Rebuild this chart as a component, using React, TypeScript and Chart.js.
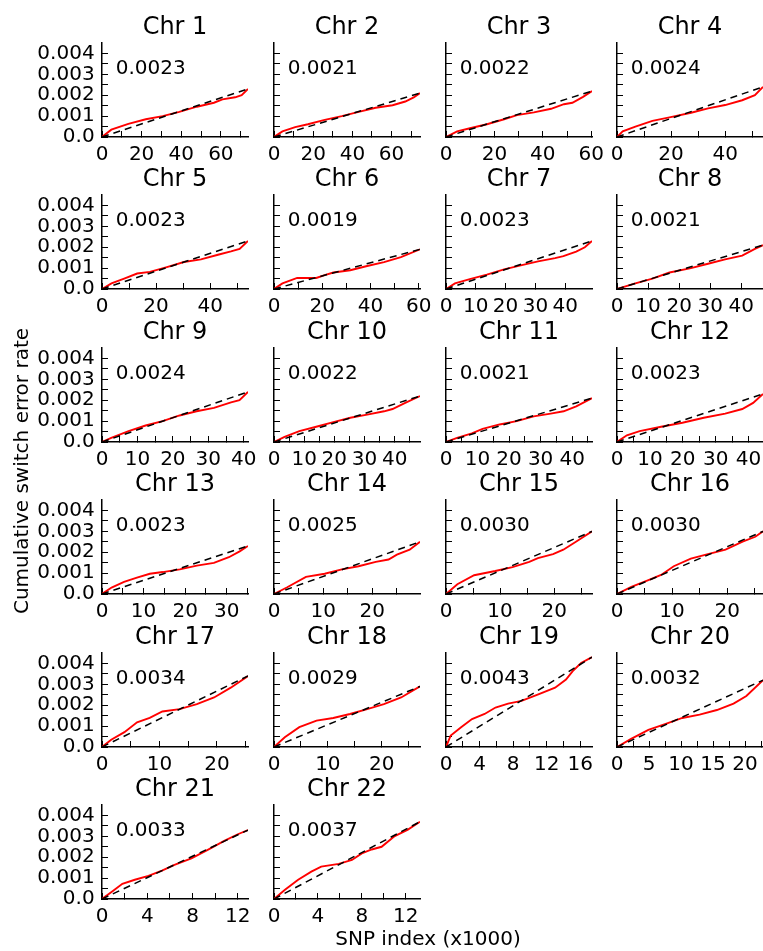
import React, { useEffect, useRef } from "react";
import { Chart, registerables } from "chart.js";

Chart.register(...registerables);

const FONT = "'DejaVu Sans', sans-serif";

const chromosomes = ["Chr 1", "Chr 2", "Chr 3", "Chr 4", "Chr 5", "Chr 6", "Chr 7", "Chr 8", "Chr 9", "Chr 10", "Chr 11", "Chr 12", "Chr 13", "Chr 14", "Chr 15", "Chr 16", "Chr 17", "Chr 18", "Chr 19", "Chr 20", "Chr 21", "Chr 22"];
const snpCounts = [73.7, 74.5, 60.3, 54, 54, 60.5, 49, 47, 41.2, 48.4, 46.3, 44.4, 35.1, 29.7, 27, 26.5, 25.4, 27.1, 17.4, 22.8, 12.9, 13.3];
const switchRates = [0.0023, 0.0021, 0.0022, 0.0024, 0.0023, 0.0019, 0.0023, 0.0021, 0.0024, 0.0022, 0.0021, 0.0023, 0.0023, 0.0025, 0.0030, 0.0030, 0.0034, 0.0029, 0.0043, 0.0032, 0.0033, 0.0037];
const xTickSteps = [10, 10, 10, 10, 10, 10, 10, 10, 5, 5, 5, 5, 5, 5, 5, 5, 5, 5, 2, 2.5, 2, 2];
const xLabelSteps = [20, 20, 20, 20, 20, 20, 10, 10, 10, 10, 10, 10, 10, 10, 10, 10, 10, 10, 4, 5, 4, 4];
const yTickValues = [0, 0.0005, 0.001, 0.0015, 0.002, 0.0025, 0.003, 0.0035, 0.004];
const yTickLabels = ["0.0", "", "0.001", "", "0.002", "", "0.003", "", "0.004"];
const yMax = 0.0045;

const chr1X = [0, 4.7, 13.3, 22.1, 30.6, 39, 47.9, 56.5, 60.8, 67.2, 70.5, 73.7];
const chr1Y = [0, 0.00035, 0.00063, 0.00085, 0.001, 0.0012, 0.00145, 0.00164, 0.0018, 0.0019, 0.002, 0.0023];
const chr2X = [0, 4.3, 10.8, 17.3, 25.9, 34.6, 43.2, 51.9, 60.5, 67, 71.3, 74.5];
const chr2Y = [0, 0.00027, 0.00047, 0.00061, 0.00082, 0.001, 0.0012, 0.0014, 0.00152, 0.0017, 0.0019, 0.0021];
const chr3X = [0, 4.6, 9.9, 16.9, 24, 29.3, 36.3, 43.4, 48.7, 52.2, 56.6, 60.3];
const chr3Y = [0, 0.00027, 0.00042, 0.00061, 0.00085, 0.00105, 0.00118, 0.00135, 0.00157, 0.00164, 0.00192, 0.0022];
const chr4X = [0, 2.1, 6.8, 13.1, 19.4, 27.4, 33.7, 40, 46.3, 51, 54];
const chr4Y = [0, 0.00027, 0.0005, 0.00077, 0.00094, 0.00116, 0.00137, 0.00153, 0.00176, 0.002, 0.0024];
const chr5X = [0, 3.5, 8.2, 13, 17.7, 24, 30.3, 36.6, 42.9, 47.7, 50.9, 54];
const chr5Y = [0, 0.00027, 0.0005, 0.00074, 0.00082, 0.00105, 0.00129, 0.00142, 0.00164, 0.0018, 0.00192, 0.0023];
const chr6X = [0, 3.5, 9.6, 17.5, 21, 24.6, 31.6, 38.6, 45.6, 52.6, 60.5];
const chr6Y = [0, 0.00027, 0.00053, 0.00053, 0.00066, 0.00079, 0.0009, 0.0011, 0.00129, 0.00153, 0.0019];
const chr7X = [0, 3, 8, 13.7, 19.5, 25.1, 30.9, 36.6, 39.4, 43.7, 46.6, 49];
const chr7Y = [0, 0.00027, 0.00047, 0.00069, 0.00094, 0.00113, 0.00132, 0.00148, 0.00157, 0.00179, 0.002, 0.0023];
const chr8X = [0, 5.9, 11.4, 16.9, 23.8, 29.3, 34.8, 40.3, 44.4, 47];
const chr8Y = [0, 0.00027, 0.0005, 0.00079, 0.001, 0.00121, 0.00142, 0.0016, 0.00192, 0.0021];
const chr9X = [0, 2.6, 7.5, 12.3, 17.1, 21.9, 26.7, 31.6, 36.4, 38.8, 41.2];
const chr9Y = [0, 0.0002, 0.00052, 0.00079, 0.001, 0.00127, 0.00147, 0.00163, 0.0019, 0.002, 0.0024];
const chr10X = [0, 3.5, 8.4, 14, 19.7, 25.3, 30.9, 36.5, 39.3, 43.5, 48.4];
const chr10Y = [0, 0.00025, 0.00052, 0.00073, 0.00095, 0.00116, 0.00131, 0.00147, 0.00158, 0.00187, 0.0022];
const chr11X = [0, 3.5, 8.2, 11.6, 17, 22.4, 27.8, 33.2, 37.3, 41.3, 46.3];
const chr11Y = [0, 0.0002, 0.00041, 0.00063, 0.00084, 0.001, 0.00123, 0.00136, 0.00147, 0.00171, 0.0021];
const chr12X = [0, 3, 6.9, 13.4, 19.9, 26.4, 32.9, 38.1, 41.4, 44.4];
const chr12Y = [0, 0.00032, 0.00052, 0.00073, 0.00092, 0.00116, 0.00136, 0.00158, 0.00187, 0.0023];
const chr13X = [0, 2.3, 5.3, 8.4, 11.5, 14.6, 18.7, 22.8, 26.9, 30.5, 33.1, 35.1];
const chr13Y = [0, 0.00031, 0.00058, 0.00078, 0.00097, 0.00105, 0.00118, 0.00136, 0.00149, 0.00176, 0.00204, 0.0023];
const chr14X = [0, 2.6, 6.5, 10.3, 13.8, 17.2, 20.7, 23.3, 25, 27.6, 29.7];
const chr14Y = [0, 0.00031, 0.00082, 0.00097, 0.00118, 0.00133, 0.00154, 0.00165, 0.00188, 0.00212, 0.0025];
const chr15X = [0, 2.1, 5.2, 9.1, 12.3, 15.4, 17, 19.8, 21.7, 24.1, 27];
const chr15Y = [0, 0.00047, 0.0009, 0.0011, 0.00129, 0.00154, 0.00172, 0.00191, 0.00212, 0.00251, 0.003];
const chr16X = [0, 2.6, 5.7, 8, 10.3, 13.4, 16.5, 19.7, 22.8, 25.1, 26.5];
const chr16Y = [0, 0.00034, 0.00066, 0.00091, 0.00133, 0.00169, 0.00191, 0.00212, 0.00251, 0.00274, 0.003];
const chr17X = [0, 1.6, 3.9, 6.1, 8.3, 10.5, 13.5, 16.5, 19.5, 22.4, 25.4];
const chr17Y = [0, 0.00035, 0.00071, 0.00118, 0.00139, 0.0017, 0.00181, 0.00205, 0.00237, 0.00284, 0.0034];
const chr18X = [0, 2, 4.7, 7.9, 11, 14.1, 17.3, 20.4, 23.6, 27.1];
const chr18Y = [0, 0.00047, 0.00095, 0.00126, 0.00139, 0.00158, 0.00181, 0.00205, 0.00237, 0.0029];
const chr19X = [0, 0.56, 1.8, 3.1, 4.6, 5.9, 7.4, 9, 11, 13, 14.3, 15.1, 16.1, 17.4];
const chr19Y = [0, 0.00055, 0.00095, 0.00134, 0.00158, 0.00189, 0.00208, 0.00221, 0.00252, 0.00284, 0.00323, 0.00363, 0.00402, 0.0043];
const chr20X = [0, 2.2, 4.9, 7.5, 10.2, 12.9, 15.6, 18.2, 20.2, 22.8];
const chr20Y = [0, 0.00039, 0.00082, 0.0011, 0.00139, 0.00155, 0.00177, 0.00208, 0.00244, 0.0032];
const chr21X = [0, 0.9, 1.8, 2.9, 4.1, 5.3, 6.4, 7.9, 9.3, 10.8, 12, 12.9];
const chr21Y = [0, 0.00036, 0.00073, 0.00092, 0.00111, 0.00136, 0.00163, 0.00195, 0.00234, 0.00278, 0.0031, 0.0033];
const chr22X = [0, 1, 2.2, 3.4, 4.3, 5.9, 7.1, 8, 8.9, 9.8, 11, 12.2, 13.3];
const chr22Y = [0, 0.00044, 0.00092, 0.00131, 0.00155, 0.00168, 0.00187, 0.00218, 0.00237, 0.0025, 0.00301, 0.00332, 0.0037];

const curveX = [chr1X, chr2X, chr3X, chr4X, chr5X, chr6X, chr7X, chr8X, chr9X, chr10X, chr11X, chr12X, chr13X, chr14X, chr15X, chr16X, chr17X, chr18X, chr19X, chr20X, chr21X, chr22X];
const curveY = [chr1Y, chr2Y, chr3Y, chr4Y, chr5Y, chr6Y, chr7Y, chr8Y, chr9Y, chr10Y, chr11Y, chr12Y, chr13Y, chr14Y, chr15Y, chr16Y, chr17Y, chr18Y, chr19Y, chr20Y, chr21Y, chr22Y];

// layout (pixels)
const COL_LEFT = [102, 274, 446, 617];
const ROW_TOP = [43, 195, 348, 500, 653, 805];
const AX_W = 146;
const AX_H = 94;
const ML = 75;
const MR = 16;
const MT = 42;
const MB = 30;

const panelTextPlugin = {
  id: "panelText",
  afterDraw(chart: any, _args: any, opts: any) {
    const { ctx, chartArea } = chart;
    ctx.save();
    ctx.fillStyle = "#000";
    ctx.textBaseline = "alphabetic";
    ctx.font = `24px ${FONT}`;
    ctx.textAlign = "center";
    ctx.fillText(opts.title, (chartArea.left + chartArea.right) / 2, chartArea.top - 9.4);
    ctx.font = `20px ${FONT}`;
    ctx.textAlign = "left";
    ctx.fillText(opts.rate, chartArea.left + 13.7, chartArea.top + 30.6);
    ctx.restore();
  },
};

function Panel({ index }: { index: number }) {
  const ref = useRef<HTMLCanvasElement>(null);
  const col = index % 4;
  const row = Math.floor(index / 4);
  const left = COL_LEFT[col] - ML;
  const top = ROW_TOP[row] - MT;
  const width = ML + AX_W + MR;
  const height = MT + AX_H + MB;

  useEffect(() => {
    const xmax = snpCounts[index];
    const rate = switchRates[index];
    const step = xTickSteps[index];
    const labelStep = xLabelSteps[index];
    const xTicks: number[] = [];
    for (let k = 0; k * step <= xmax + 1e-9; k++) xTicks.push(Math.round(k * step * 1000) / 1000);
    const xLabels = xTicks.map((v) => {
      const r = v / labelStep;
      return Math.abs(r - Math.round(r)) < 1e-6 ? String(v) : "";
    });
    const pts = curveX[index].map((x, i) => ({ x, y: curveY[index][i] }));
    const showY = col === 0;

    const chart = new Chart(ref.current as HTMLCanvasElement, {
      type: "line",
      data: {
        datasets: [
          {
            data: [
              { x: 0, y: 0 },
              { x: xmax, y: rate },
            ],
            borderColor: "#000",
            borderWidth: 1.5,
            borderDash: [7, 5],
            pointRadius: 0,
            fill: false,
          },
          {
            data: pts,
            borderColor: "#ff0000",
            borderWidth: 1.9,
            pointRadius: 0,
            tension: 0,
            fill: false,
          },
        ],
      },
      options: {
        animation: false,
        responsive: false,
        maintainAspectRatio: false,
        devicePixelRatio: 1,
        events: [],
        layout: { padding: { top: MT, right: MR, left: 0, bottom: 0 } },
        plugins: {
          legend: { display: false },
          tooltip: { enabled: false },
          title: { display: false },
          panelText: { title: chromosomes[index], rate: rate.toFixed(4) },
        } as any,
        scales: {
          x: {
            type: "linear",
            position: "bottom",
            min: 0,
            max: xmax,
            afterBuildTicks: (s: any) => {
              s.ticks = xTicks.map((v) => ({ value: v }));
            },
            afterFit: (s: any) => {
              s.height = MB;
              s.paddingLeft = 0;
              s.paddingRight = 0;
            },
            ticks: {
              autoSkip: false,
              maxRotation: 0,
              minRotation: 0,
              padding: 11.7,
              color: "#000",
              font: { size: 20, family: FONT },
              callback: (_v: any, i: number) => xLabels[i],
            },
            grid: { display: true, drawOnChartArea: false, drawTicks: true, tickLength: -6, color: "#000", lineWidth: 1 },
            border: { display: true, color: "#000", width: 1.5 },
          },
          y: {
            type: "linear",
            position: "left",
            min: 0,
            max: yMax,
            afterBuildTicks: (s: any) => {
              s.ticks = yTickValues.map((v) => ({ value: v }));
            },
            afterFit: (s: any) => {
              s.width = ML;
              s.paddingTop = 0;
              s.paddingBottom = 0;
            },
            ticks: {
              autoSkip: false,
              padding: 13.4,
              color: "#000",
              font: { size: 20, family: FONT },
              callback: (_v: any, i: number) => (showY ? yTickLabels[i] : ""),
            },
            grid: { display: true, drawOnChartArea: false, drawTicks: true, tickLength: -6, color: "#000", lineWidth: 1 },
            border: { display: true, color: "#000", width: 1.5 },
          },
        } as any,
      },
      plugins: [panelTextPlugin as any],
    });
    return () => chart.destroy();
  }, [index]);

  return (
    <canvas
      ref={ref}
      width={width}
      height={height}
      style={{ position: "absolute", left, top, width, height }}
    />
  );
}

export default function App() {
  return (
    <div
      style={{
        position: "absolute",
        left: 0,
        top: 0,
        width: 763,
        height: 951,
        background: "#fff",
        overflow: "hidden",
        fontFamily: FONT,
      }}
    >
      {chromosomes.map((_, i) => (
        <Panel key={i} index={i} />
      ))}
      <div
        style={{
          position: "absolute",
          left: 21 - 220,
          top: 471 - 10,
          width: 440,
          height: 20,
          lineHeight: "20px",
          fontSize: 20,
          textAlign: "center",
          whiteSpace: "nowrap",
          color: "#000",
          transform: "rotate(-90deg)",
        }}
      >
        Cumulative switch error rate
      </div>
      <div
        style={{
          position: "absolute",
          left: 428 - 150,
          top: 928,
          width: 300,
          height: 20,
          lineHeight: "20px",
          fontSize: 20,
          textAlign: "center",
          whiteSpace: "nowrap",
          color: "#000",
        }}
      >
        SNP index (x1000)
      </div>
    </div>
  );
}
